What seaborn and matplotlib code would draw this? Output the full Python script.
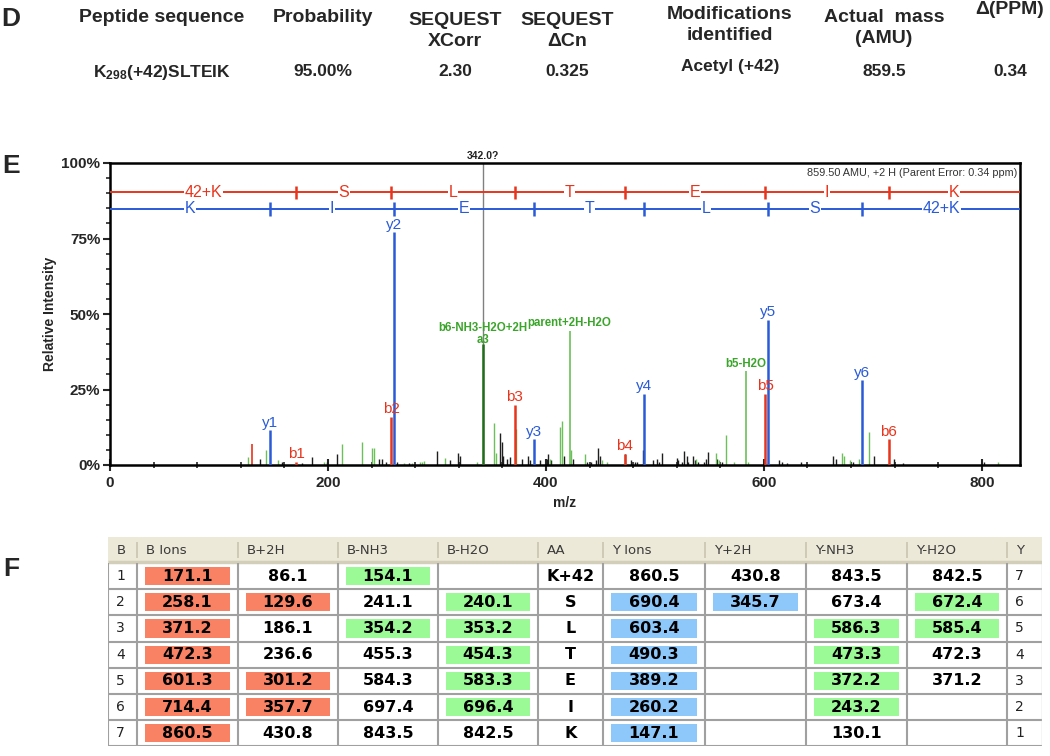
import matplotlib.pyplot as plt
import seaborn as sns
import pandas as pd
from matplotlib.patches import Rectangle
from matplotlib.ticker import MultipleLocator

sns.set_theme(style='ticks')
plt.rcParams['font.family'] = ['Liberation Sans', 'DejaVu Sans']
plt.rcParams['mathtext.fontset'] = 'custom'
plt.rcParams['mathtext.bf'] = 'Liberation Sans:bold'
plt.rcParams['mathtext.rm'] = 'Liberation Sans:bold'

# ---------------- panel D : identification summary ----------------
d_headers = ['Peptide sequence', 'Probability', 'SEQUEST\nXCorr', 'SEQUEST\n\u0394Cn',
             'Modifications\nidentified', 'Actual  mass\n(AMU)', '\u0394(PPM)']
d_values = ['$\\mathbf{K_{298}}$(+42)SLTEIK', '95.00%', '2.30', '0.325', 'Acetyl (+42)', '859.5', '0.34']

# ---------------- panel E : spectrum ----------------
b_mz = [171.1, 258.1, 371.2, 472.3, 601.3, 714.4]
b_int = [1.0, 16.0, 20.0, 3.7, 23.5, 8.5]
b_lab = ['b1', 'b2', 'b3', 'b4', 'b5', 'b6']
y_mz = [147.1, 260.2, 389.2, 490.3, 603.4, 690.4]
y_int = [11.5, 77.0, 8.5, 23.5, 48.0, 28.0]
y_lab = ['y1', 'y2', 'y3', 'y4', 'y5', 'y6']
parent_mz = 860.5
b_residues = ['42+K', 'S', 'L', 'T', 'E', 'I', 'K']
y_residues = ['K', 'I', 'E', 'T', 'L', 'S', '42+K']

a3_mz, a3_int = 342.0, 40.0
green_lab_mz = [421.7, 583.3]
green_lab_int = [44.5, 31.0]
green_lab = ['parent+2H-H2O', 'b5-H2O']

red_other_mz = [130.0]
red_other_int = [7.0]

green_mz = [127, 143, 154, 196, 213, 231, 240, 242, 270, 277, 284, 286, 288, 307, 337,
            352, 354, 372.2, 403.5, 413, 414.6, 423, 436, 451, 456, 537.5, 556, 558.5,
            565, 573, 585, 672, 673.5, 679, 687, 696.4, 815]
green_int = [2.5, 5, 1.5, 1, 7, 7.5, 5.5, 5.5, 0.7, 0.5, 1, 1, 1.2, 2.3, 1,
             14, 4, 12, 2, 12.5, 14.5, 5, 3.5, 1.5, 1, 2, 4, 1.5,
             10, 1, 1, 4, 3, 1.5, 2, 11, 1]

black_mz = [137.6, 158, 176, 185, 199, 208, 247, 249.5, 253, 263, 274.5, 300, 312, 319, 321,
            358, 359.5, 361, 364, 367, 378, 383.5, 385, 395, 401, 402, 405, 417, 425, 438,
            441, 446, 448, 450, 472.5, 478.5, 482, 484, 489, 498, 501.5, 504, 506.5, 520,
            521.5, 524.5, 526.6, 529, 530.5, 535, 536.5, 539.5, 545, 546.6, 548.5, 557,
            561.5, 614, 616.5, 621, 634, 663, 666, 682, 701, 719, 728, 802]
black_int = [2, 1, 0.7, 2.5, 1, 3.8, 2, 2, 1, 1, 0.7, 4.5, 1.5, 4, 3,
             10.5, 7.5, 3, 2, 2.5, 2, 3, 1.5, 1.5, 2, 3.5, 1.5, 3, 2, 1,
             1, 1.5, 5.5, 3, 3.5, 1.5, 1, 1, 5, 1.5, 2, 1, 4, 2.3,
             1.5, 1, 4.6, 3, 1, 3, 1.5, 1, 1, 2, 4.3, 2,
             1, 1.5, 1, 0.5, 1, 3, 2, 1, 3, 2, 0.5, 1]

# ---------------- panel F : fragment table ----------------
tab_headers = ['B', 'B Ions', 'B+2H', 'B-NH3', 'B-H2O', 'AA', 'Y Ions', 'Y+2H', 'Y-NH3', 'Y-H2O', 'Y']
b_num = [1, 2, 3, 4, 5, 6, 7]
b_ions = [171.1, 258.1, 371.2, 472.3, 601.3, 714.4, 860.5]
b_2h = [86.1, 129.6, 186.1, 236.6, 301.2, 357.7, 430.8]
b_nh3 = [154.1, 241.1, 354.2, 455.3, 584.3, 697.4, 843.5]
b_h2o = [None, 240.1, 353.2, 454.3, 583.3, 696.4, 842.5]
aa = ['K+42', 'S', 'L', 'T', 'E', 'I', 'K']
y_ions = [860.5, 690.4, 603.4, 490.3, 389.2, 260.2, 147.1]
y_2h = [430.8, 345.7, None, None, None, None, None]
y_nh3 = [843.5, 673.4, 586.3, 473.3, 372.2, 243.2, 130.1]
y_h2o = [842.5, 672.4, 585.4, 472.3, 371.2, None, None]
y_num = [7, 6, 5, 4, 3, 2, 1]
# matched-ion highlight per column ('' none, 'b' b-ion, 'n' neutral loss, 'y' y-ion)
hl_b_ions = ['b'] * 7
hl_b_2h = ['', 'b', '', '', 'b', 'b', '']
hl_b_nh3 = ['n', '', 'n', '', '', '', '']
hl_b_h2o = ['', 'n', 'n', 'n', 'n', 'n', '']
hl_y_ions = ['', 'y', 'y', 'y', 'y', 'y', 'y']
hl_y_2h = ['', 'y', '', '', '', '', '']
hl_y_nh3 = ['', '', 'n', 'n', 'n', 'n', '']
hl_y_h2o = ['', 'n', 'n', '', '', '', '']

# ---------------- figure ----------------
W, H = 1050, 756
fig = plt.figure(figsize=(W / 100, H / 100), dpi=100)
fig.patch.set_facecolor('white')

RED = '#e8341c'
BLUE = '#2a5bd7'
GREEN = '#6cc05a'
GREEN_TXT = '#3aa52a'

def ftext(x, y, s, **kw):
    fig.text(x / W, 1 - y / H, s, **kw)

# panel letters
for lx, ly, s in [(11, 19, 'D'), (11, 166, 'E'), (11, 569, 'F')]:
    ftext(lx, ly, s, fontsize=19, fontweight='bold', ha='center', va='center')

# panel D
d_x = [162, 323, 455, 567, 730, 884, 1010]
d_hy = [18, 18, 31, 31, 25, 28, 10]
d_vy = [72, 72, 72, 72, 67, 72, 72]
for x, hy, vy, h, v in zip(d_x, d_hy, d_vy, d_headers, d_values):
    ftext(x, hy, h, fontsize=14, fontweight='bold', ha='center', va='center', linespacing=1.3)
    ftext(x, vy, v, fontsize=12.5, fontweight='bold', ha='center', va='center')

# panel E spectrum
ax = fig.add_axes([110 / W, 1 - 465 / H, 910 / W, 302 / H])
xmax = 835
ax.set_xlim(0, xmax)
ax.set_ylim(0, 100)

noise = pd.DataFrame({'mz': black_mz, 'inten': black_int})
ax.vlines(noise['mz'], 0, noise['inten'], color='#1e1e1e', lw=1.0)
ax.vlines(green_mz, 0, green_int, color=GREEN, lw=1.0)
ax.vlines(red_other_mz, 0, red_other_int, color=RED, lw=1.2)

# precursor marker
ax.vlines([a3_mz], 0, 100, color='#808080', lw=1.0, zorder=1)
ax.text(a3_mz, 100.8, '342.0?', fontsize=7.5, fontweight='bold', ha='center', va='bottom', color='#222')
ax.vlines([a3_mz], 0, a3_int, color='#1f6e1a', lw=1.8, zorder=3)
ax.annotate('a3', (a3_mz, a3_int), xytext=(0, -1), textcoords='offset points',
            ha='center', va='bottom', fontsize=8.3, fontweight='bold', color=GREEN_TXT)
ax.annotate('b6-NH3-H2O+2H', (a3_mz, a3_int), xytext=(0, 7.5), textcoords='offset points',
            ha='center', va='bottom', fontsize=8.3, fontweight='bold', color=GREEN_TXT)

ax.vlines(green_lab_mz, 0, green_lab_int, color=GREEN, lw=1.2)
for mz, it, lab in zip(green_lab_mz, green_lab_int, green_lab):
    ax.annotate(lab, (mz, it), xytext=(0, 1), textcoords='offset points',
                ha='center', va='bottom', fontsize=8.3, fontweight='bold', color=GREEN_TXT)

ax.vlines(b_mz, 0, b_int, color=RED, lw=1.8, zorder=4)
ax.vlines(y_mz, 0, y_int, color=BLUE, lw=1.8, zorder=4)
for mz, it, lab in zip(b_mz, b_int, b_lab):
    ax.annotate(lab, (mz, it), xytext=(0, 0.5), textcoords='offset points',
                ha='center', va='bottom', fontsize=11, color=RED, zorder=5)
for mz, it, lab in zip(y_mz, y_int, y_lab):
    ax.annotate(lab, (mz, it), xytext=(0, 0.5), textcoords='offset points',
                ha='center', va='bottom', fontsize=11, color=BLUE, zorder=5)

# sequence ladders
for level, cuts, residues, col in [(90.3, b_mz, b_residues, RED), (84.8, y_mz, y_residues, BLUE)]:
    ax.hlines(level, 0, xmax, color=col, lw=1.4, zorder=6)
    ax.vlines(cuts, level - 2.2, level + 2.2, color=col, lw=1.8, zorder=6)
    bounds = [0] + cuts + [parent_mz]
    for lo, hi, r in zip(bounds[:-1], bounds[1:], residues):
        mid = (lo + min(hi, xmax)) / 2
        ax.text(mid, level, r, color=col, fontsize=11.5, ha='center', va='center', zorder=7,
                bbox=dict(facecolor='white', edgecolor='none', pad=0.6))

ax.text(0.997, 0.985, '859.50 AMU, +2 H (Parent Error: 0.34 ppm)', transform=ax.transAxes,
        ha='right', va='top', fontsize=7.8, color='#333')

ax.set_xticks([0, 200, 400, 600, 800])
ax.xaxis.set_minor_locator(MultipleLocator(40))
ax.set_yticks([0, 25, 50, 75, 100])
ax.set_yticklabels(['0%', '25%', '50%', '75%', '100%'])
ax.yaxis.set_minor_locator(MultipleLocator(5))
ax.tick_params(axis='x', which='major', direction='inout', length=8, width=1.5, labelsize=11, pad=4)
ax.tick_params(axis='x', which='minor', direction='inout', length=5, width=1.2)
ax.tick_params(axis='y', which='major', direction='out', length=5, width=1.5, labelsize=11, pad=2)
ax.tick_params(axis='y', which='minor', direction='out', length=3, width=1.2)
for lab in ax.get_xticklabels() + ax.get_yticklabels():
    lab.set_fontweight('bold')
for sp in ax.spines.values():
    sp.set_linewidth(1.8)
    sp.set_color('black')
ax.set_xlabel('m/z', fontsize=10, fontweight='bold', labelpad=4)
ax.set_ylabel('Relative Intensity', fontsize=10, fontweight='bold', labelpad=3)

# panel F table
col_w = [29, 101, 100, 100, 100, 65, 102, 101, 101, 100, 35]
head_h, row_h = 26, 26.2
tab_h = head_h + 7 * row_h
tab = fig.add_axes([108 / W, 1 - (537 + tab_h) / H, sum(col_w) / W, tab_h / H])
tab.set_xlim(0, sum(col_w))
tab.set_ylim(tab_h, 0)
tab.axis('off')

columns = [b_num, b_ions, b_2h, b_nh3, b_h2o, aa, y_ions, y_2h, y_nh3, y_h2o, y_num]
highlights = [None, hl_b_ions, hl_b_2h, hl_b_nh3, hl_b_h2o, None, hl_y_ions, hl_y_2h, hl_y_nh3, hl_y_h2o, None]
hl_colors = {'b': '#fa8264', 'n': '#9bfa96', 'y': '#8ec8fa'}
edges = [0]
for w in col_w:
    edges.append(edges[-1] + w)

tab.add_patch(Rectangle((0, 0), sum(col_w), head_h, facecolor='#ece9d8', edgecolor='none'))
tab.hlines([head_h - 1.5], 0, sum(col_w), color='#d2ceba', lw=2.5)
for i, (h, vals, hls) in enumerate(zip(tab_headers, columns, highlights)):
    x0, x1 = edges[i], edges[i + 1]
    if i > 0:
        tab.vlines(x0, 5, head_h - 5, color='#c8c4b0', lw=1.2)
    tab.text(x0 + 9, head_h / 2 + 1, h, fontsize=9.5, ha='left', va='center',
             color='#3a3a3a', family='DejaVu Sans')
    for r, v in enumerate(vals):
        y0 = head_h + r * row_h
        if hls is not None and hls[r]:
            tab.add_patch(Rectangle((x0 + 8, y0 + 4), (x1 - x0) - 16, row_h - 8,
                                    facecolor=hl_colors[hls[r]], edgecolor='none'))
        if v is None:
            continue
        if i in (0, 10):
            tab.text(x0 + 8, y0 + row_h / 2, str(v), fontsize=10, ha='left', va='center',
                     color='#222', family='DejaVu Sans')
        else:
            s = v if isinstance(v, str) else f'{v:.1f}'
            tab.text((x0 + x1) / 2, y0 + row_h / 2, s, fontsize=11.5, fontweight='bold',
                     ha='center', va='center', color='black', family='DejaVu Sans')

grid = '#a0a0a0'
tab.hlines([head_h + r * row_h for r in range(1, 8)], 0, sum(col_w), color=grid, lw=1.5)
tab.vlines(edges[:-1], head_h, tab_h, color=grid, lw=1.5)
tab.vlines([edges[-1]], head_h, tab_h, color='#d0d0d0', lw=1.0)

fig.savefig('out.png', dpi=100)
